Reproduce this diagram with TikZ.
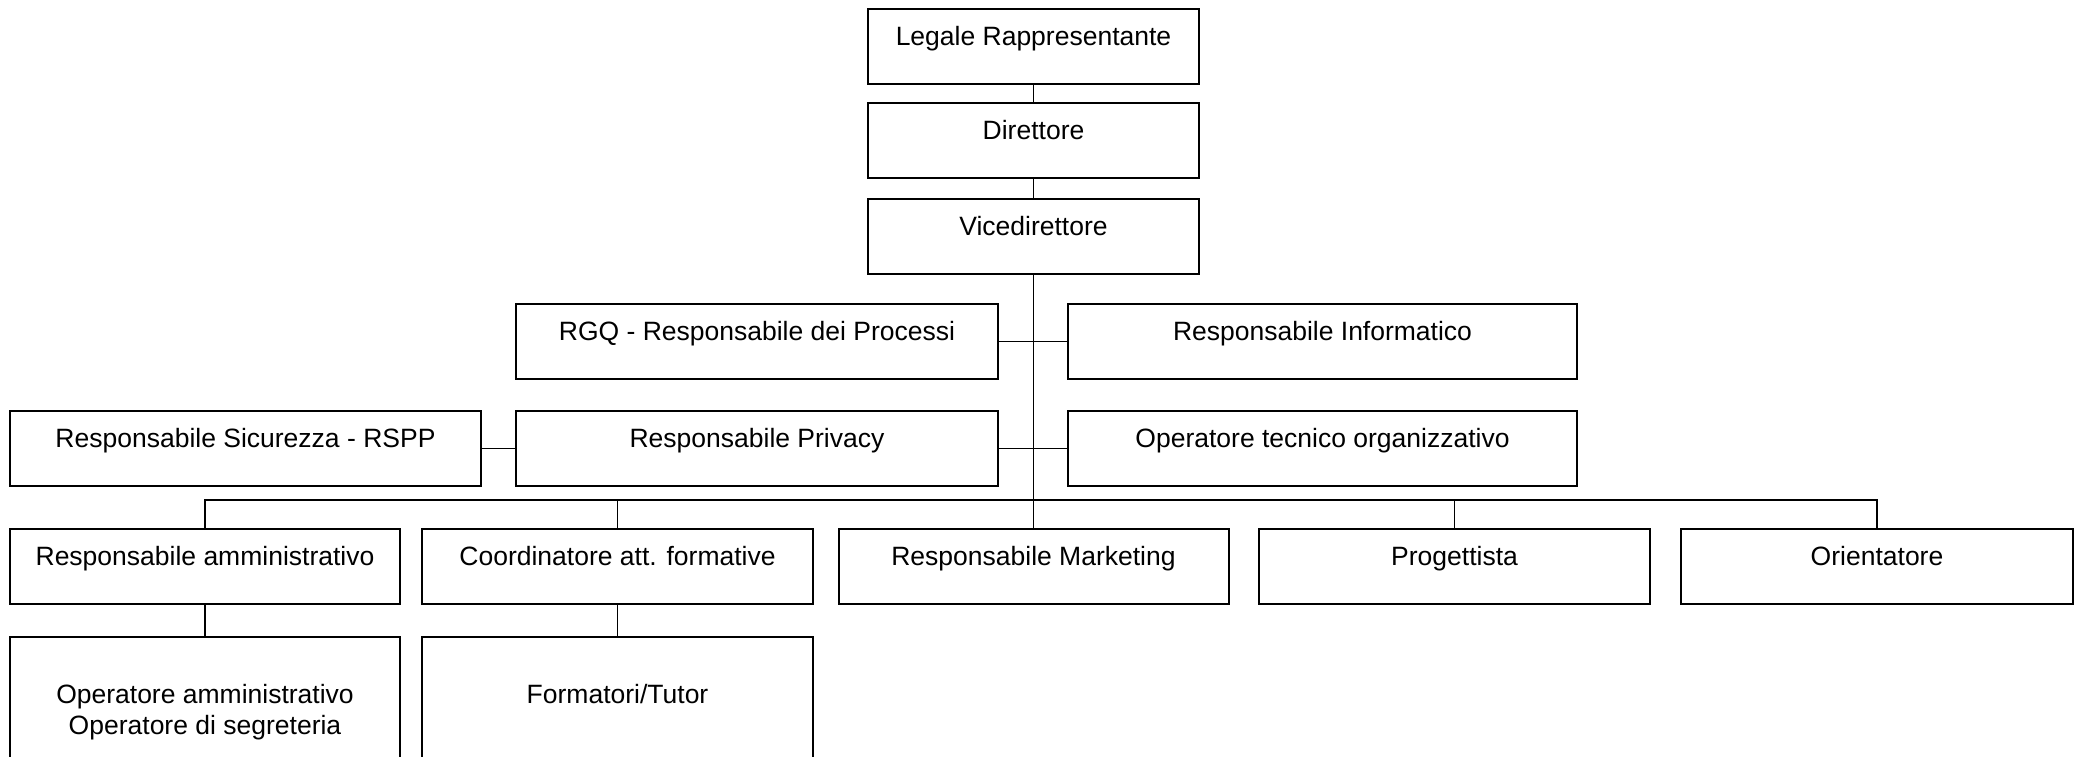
\documentclass[tikz,border=0pt]{standalone}
\usepackage{fontspec}
\setmainfont{Liberation Sans}
\begin{document}
\begin{tikzpicture}[x=1pt,y=-1pt,
  orgbox/.style={draw, line width=2pt, inner sep=0pt, anchor=north,
    font=\fontsize{26.5}{27}\selectfont, text height=36pt, text depth=39pt},
  lowbox/.style={orgbox, text height=66pt, text depth=94pt},
  link/.style={line width=1.7pt}]
\clip (0,0) rectangle (2076,756);
\useasboundingbox (0,0) rectangle (2076,756);
% top chain
\node[orgbox, minimum width=331pt] (legale) at (1033.5,8) {Legale Rappresentante};
\node[orgbox, minimum width=331pt] (dir) at (1033.5,102) {Direttore};
\node[orgbox, minimum width=331pt] (vice) at (1033.5,198) {Vicedirettore};
% staff rows
\node[orgbox, minimum width=482pt] (rgq) at (757,303) {RGQ - Responsabile dei Processi};
\node[orgbox, minimum width=509pt] (info) at (1322.5,303) {Responsabile Informatico};
\node[orgbox, minimum width=471pt] (sic) at (245.5,410) {Responsabile Sicurezza - RSPP};
\node[orgbox, minimum width=482pt] (priv) at (757,410) {Responsabile Privacy};
\node[orgbox, minimum width=509pt] (opt) at (1322.5,410) {Operatore tecnico organizzativo};
% line row
\node[orgbox, minimum width=390pt] (ramm) at (205,528) {Responsabile amministrativo};
\node[orgbox, minimum width=391pt] (coord) at (617.5,528) {Coordinatore att. formative};
\node[orgbox, minimum width=390pt] (mkt) at (1033.5,528) {Responsabile Marketing};
\node[orgbox, minimum width=391pt] (prog) at (1454.5,528) {Progettista};
\node[orgbox, minimum width=392pt] (ori) at (1877,528) {Orientatore};
% bottom row
\node[draw, line width=2pt, inner sep=0pt, anchor=north, align=center,
  font=\fontsize{26.5}{30.5}\selectfont, minimum width=390pt, minimum height=150pt]
  (opamm) at (205,636) {Operatore amministrativo\\Operatore di segreteria};
\node[lowbox, minimum width=391pt] (form) at (617.5,636) {Formatori/Tutor};
% connectors
\coordinate (bus) at (1033.5,500);
\draw[link] (legale) -- (dir);
\draw[link] (dir) -- (vice);
\draw[link] (vice.south) -- (mkt.north);
\draw[link] (rgq.east) -- (info.west);
\draw[link] (priv.east) -- (opt.west);
\draw[link] (sic.east) -- (priv.west);
\draw[link] (ramm.north) |- (bus) -| (ori.north);
\draw[link] (coord.north) -- (coord.north |- bus);
\draw[link] (prog.north) -- (prog.north |- bus);
\draw[link] (ramm.south) -- (opamm.north);
\draw[link] (coord.south) -- (form.north);
\end{tikzpicture}
\end{document}
